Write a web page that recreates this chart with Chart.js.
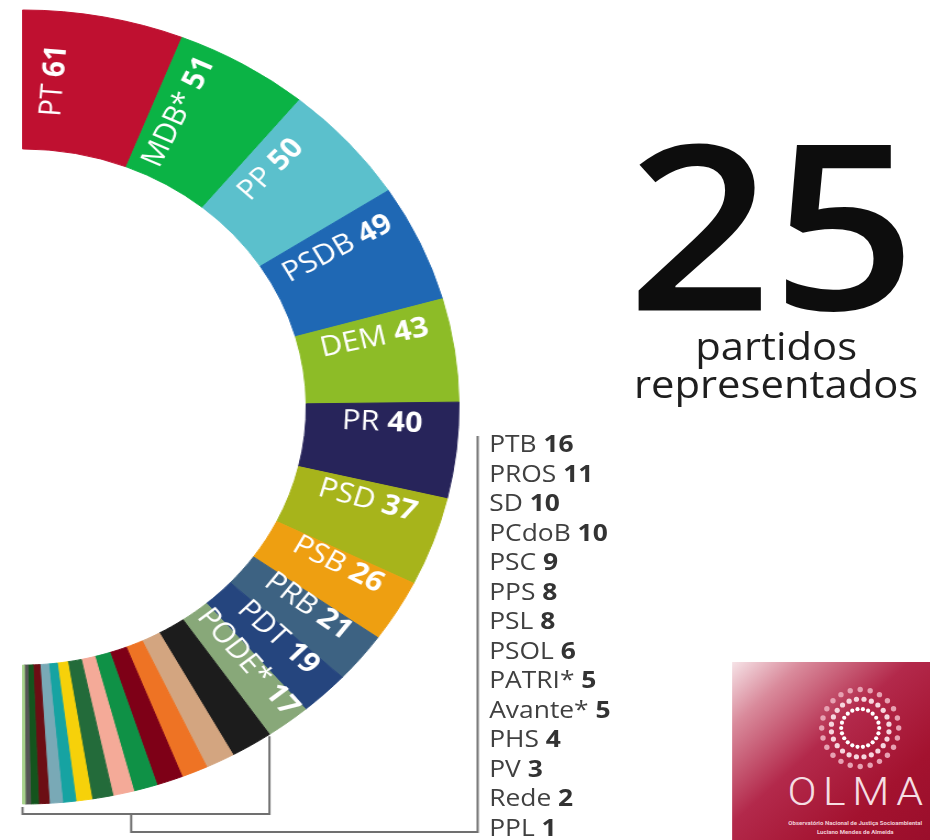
<!DOCTYPE html>
<html><head><meta charset="utf-8">
<script src="https://cdn.jsdelivr.net/npm/chart.js@4.4.1/dist/chart.umd.min.js"></script>
<style>
html,body{margin:0;padding:0;background:#fff;overflow:hidden;width:930px;height:840px;}
#stage{position:absolute;left:0;top:0;width:846px;height:840px;transform:scaleX(1.0993);transform-origin:0 0;font-family:'Open Sans',sans-serif;}
#chart{position:absolute;left:0;top:0;}
#total{position:absolute;left:502px;width:400px;text-align:center;top:107px;font-size:230px;line-height:228px;font-weight:600;color:#0d0d0d;}
#caption{position:absolute;left:556px;width:300px;text-align:center;top:326px;font-size:38px;line-height:38px;color:#1e1e1e;}
#list{position:absolute;left:445px;top:428px;font-size:24px;line-height:29.5px;color:#404040;white-space:nowrap;}
#list b{font-weight:700;color:#333;}
#logo{position:absolute;left:665.5px;top:662px;width:181px;height:178px;overflow:hidden;
 background:linear-gradient(135deg,#f6e3e7 0%,#d98a9b 18%,#b3294b 45%,#a3122f 75%,#9a0e2b 100%);}
#logo svg{position:absolute;left:0;top:0;}
#olma{position:absolute;left:22px;width:181px;text-align:center;top:111px;font-family:Roboto,sans-serif;font-weight:300;font-size:39px;line-height:39px;letter-spacing:6px;text-indent:6px;color:#f5dde2;}
#olmasub{position:absolute;left:22px;width:181px;text-align:center;top:157px;font-family:Roboto,sans-serif;font-weight:700;font-size:5.5px;line-height:9px;color:#f0ccd5;}
</style></head><body>
<div id="stage">
 <canvas id="chart" width="846" height="840"></canvas>
 <div id="total"></div>
 <div id="caption">partidos<br>representados</div>
 <div id="list"></div>
 <div id="logo">
  <svg id="dots" width="181" height="178"></svg>
  <div id="olma">OLMA</div>
  <div id="olmasub">Observatório Nacional de Justiça Socioambiental<br>Luciano Mendes de Almeida</div>
 </div>
</div>
<script>
// ---- data ----
const parties = ['PT','MDB*','PP','PSDB','DEM','PR','PSD','PSB','PRB','PDT','PODE*',
  'PTB','PROS','SD','PCdoB','PSC','PPS','PSL','PSOL','PATRI*','Avante*','PHS','PV','Rede','PPL'];
const seats = [61,51,50,49,43,40,37,26,21,19,17,16,11,10,10,9,8,8,6,5,5,4,3,2,1];
const colors = ['#bf1030','#0bb345','#5bc0cc','#1f68b4','#8dbc27','#27245a','#a7b41b','#ee9f11','#3d6282','#25457e','#88a879',
  '#1c1c1c','#d3a580','#ee7324','#7e0017','#0f9146','#f4aa98','#236b3a','#f6d10a','#16a3a2','#79a9b6','#6c0e14','#14541d','#555555','#a8d38c'];
const ringLabelCount = 11; // parties labelled on the ring; the rest are listed

// ---- text outside the chart ----
document.getElementById('total').textContent = String(parties.length);
document.getElementById('list').innerHTML = parties.slice(ringLabelCount)
  .map((p, i) => p + ' <b>' + seats[ringLabelCount + i] + '</b>').join('<br>');

// ---- logo dots ----
(function(){
  const svg = document.getElementById('dots');
  const cx = 116.5, cy = 66, sx = 1/1.0993;
  const rings = [[19,22,2.1,'#ffffff'],[29,24,2.6,'#f6d6de'],[38.5,24,2.7,'#e7a1b2']];
  let s = '';
  rings.forEach(([r,n,d,c], k) => {
    for (let j = 0; j < n; j++) {
      const a = (j + (k % 2) * 0.5) / n * Math.PI * 2;
      s += '<ellipse cx="' + (cx + r*Math.cos(a)*sx).toFixed(2) + '" cy="' + (cy + r*Math.sin(a)).toFixed(2) +
           '" rx="' + (d*sx).toFixed(2) + '" ry="' + d + '" fill="' + c + '"/>';
    }
  });
  svg.innerHTML = s;
})();

// ---- plugins ----
const ringLabels = {
  id: 'ringLabels',
  afterDatasetsDraw(chart) {
    const meta = chart.getDatasetMeta(0), ctx = chart.ctx;
    for (let i = 0; i < ringLabelCount; i++) {
      const p = meta.data[i].getProps(['x','y','startAngle','endAngle','innerRadius','outerRadius'], true);
      const a = p.startAngle + 0.22 * (p.endAngle - p.startAngle);
      const r = (p.innerRadius + p.outerRadius) / 2;
      const name = parties[i] + ' ', val = String(seats[i]);
      ctx.save();
      ctx.translate(p.x + r * Math.cos(a), p.y + r * Math.sin(a));
      ctx.rotate(a);
      ctx.font = '400 28px "Open Sans"'; const w1 = ctx.measureText(name).width;
      ctx.font = '700 28px "Open Sans"'; const w2 = ctx.measureText(val).width;
      const x0 = -(w1 + w2) / 2;
      ctx.fillStyle = '#ffffff'; ctx.textAlign = 'left'; ctx.textBaseline = 'alphabetic';
      ctx.font = '400 28px "Open Sans"'; ctx.fillText(name, x0, 10);
      ctx.font = '700 28px "Open Sans"'; ctx.fillText(val, x0 + w1, 10);
      ctx.restore();
    }
  }
};

const brackets = {
  id: 'brackets',
  afterDatasetsDraw(chart) {
    const meta = chart.getDatasetMeta(0), ctx = chart.ctx;
    const f = meta.data[ringLabelCount].getProps(['x','y','startAngle','outerRadius'], true);
    const l = meta.data[meta.data.length - 1].getProps(['x','y','endAngle','outerRadius'], true);
    const ax = f.x + f.outerRadius * Math.cos(f.startAngle), ay = f.y + f.outerRadius * Math.sin(f.startAngle);
    const bx = l.x + l.outerRadius * Math.cos(l.endAngle), by = l.y + l.outerRadius * Math.sin(l.endAngle);
    const y1 = by + 10, y2 = y1 + 18, mx = bx + (ax - bx) * 0.44;
    const listX = 434.5, listTop = 436;
    ctx.save();
    ctx.strokeStyle = '#707070'; ctx.lineWidth = 2; ctx.lineJoin = 'miter';
    ctx.beginPath(); ctx.moveTo(bx, by + 3); ctx.lineTo(bx, y1); ctx.lineTo(ax, y1); ctx.lineTo(ax, ay + 2); ctx.stroke();
    ctx.beginPath(); ctx.moveTo(mx, y1); ctx.lineTo(mx, y2); ctx.lineTo(listX, y2); ctx.lineTo(listX, listTop); ctx.stroke();
    ctx.restore();
  }
};

function build() {
  new Chart(document.getElementById('chart'), {
    type: 'doughnut',
    data: {
      labels: parties,
      datasets: [{ data: seats, backgroundColor: colors, borderColor: colors, borderWidth: 1 }]
    },
    options: {
      responsive: false,
      animation: false,
      events: [],
      rotation: 0,
      circumference: 180,
      cutout: '65%',
      layout: { padding: { left: 20, top: 9, right: 846 - 20 - 398, bottom: 840 - 9 - 796 } },
      plugins: { legend: { display: false }, tooltip: { enabled: false } }
    },
    plugins: [ringLabels, brackets]
  });
}
Promise.all([
  document.fonts.load('400 28px "Open Sans"'),
  document.fonts.load('700 28px "Open Sans"')
]).then(build, build);
</script>
</body></html>
